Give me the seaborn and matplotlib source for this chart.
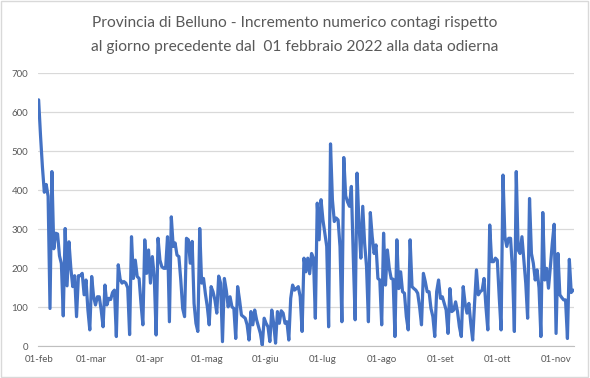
import pandas as pd
import matplotlib.pyplot as plt
import seaborn as sns
from matplotlib.patches import Rectangle

# Incremento giornaliero contagi, Provincia di Belluno
feb = [632, 540, 460, 395, 415, 385, 97, 448, 250, 290, 288, 232, 212, 78,
       302, 155, 268, 200, 153, 181, 76, 181, 181, 187, 132, 170, 93, 42]
mar = [179, 127, 106, 127, 127, 93, 50, 157, 106, 123, 120, 138, 144, 25,
       209, 172, 162, 166, 162, 150, 30, 281, 174, 221, 179, 174, 110, 55,
       273, 187, 247]
apr = [162, 230, 179, 29, 277, 221, 204, 200, 200, 281, 63, 332, 256, 265,
       234, 230, 170, 97, 76, 277, 273, 213, 269, 110, 59, 38, 302, 162, 174, 134]
mag = [101, 55, 153, 140, 119, 85, 180, 162, 12, 174, 144, 101, 127, 101,
       97, 20, 153, 119, 80, 76, 72, 55, 16, 89, 55, 93, 68, 50, 33, 3, 72]
giu = [59, 50, 12, 93, 59, 8, 89, 59, 91, 85, 59, 63, 16, 123, 157, 144,
       148, 153, 127, 38, 226, 191, 226, 186, 238, 226, 72, 367, 273, 376]
lug = [324, 290, 256, 50, 519, 376, 320, 329, 324, 256, 63, 484, 386, 370,
       359, 410, 230, 68, 444, 315, 226, 359, 264, 204, 63, 343, 281, 238,
       260, 174, 170]
ago = [55, 290, 157, 247, 200, 174, 172, 25, 273, 148, 191, 140, 136, 76,
       42, 273, 153, 148, 144, 136, 101, 55, 187, 166, 140, 140, 97, 76, 25,
       140, 170]
set_ = [123, 127, 110, 93, 33, 148, 89, 93, 114, 89, 50, 25, 153, 110, 85,
        110, 59, 16, 110, 196, 132, 140, 144, 174, 101, 42, 311, 217, 217, 226]
ott = [221, 127, 42, 439, 281, 256, 277, 277, 196, 38, 448, 247, 238, 281,
       220, 162, 72, 379, 238, 213, 170, 196, 150, 25, 343, 170, 200, 149,
       204, 264, 313]
nov = [33, 238, 132, 125, 119, 119, 20, 223, 138, 144]

valori = feb + mar + apr + mag + giu + lug + ago + set_ + ott + nov
date = pd.date_range('2022-02-01', periods=len(valori), freq='D')
dati = pd.DataFrame({'data': date, 'contagi': valori})

mesi = ['01-feb', '01-mar', '01-apr', '01-mag', '01-giu', '01-lug',
        '01-ago', '01-set', '01-ott', '01-nov']
inizio_mesi = pd.date_range('2022-02-01', periods=len(mesi), freq='MS')

sns.set_style('white')
plt.rcParams['font.family'] = ['Lato', 'DejaVu Sans']

fig = plt.figure(figsize=(5.9, 3.78), dpi=100)
ax = fig.add_axes([0.0644, 0.0839, 0.9086, 0.7221])

sns.lineplot(data=dati, x='data', y='contagi', color='#4472C4', linewidth=2.3, ax=ax)

ax.set_ylim(0, 700)
ax.set_yticks(range(0, 701, 100))
ax.set_xlim(pd.Timestamp('2022-02-01') - pd.Timedelta(hours=8),
            pd.Timestamp('2022-02-01') + pd.Timedelta(days=282.5))
ax.set_xticks(inizio_mesi)
ax.set_xticklabels(mesi)
ax.grid(axis='y', color='#d9d9d9', linewidth=0.9)
ax.set_axisbelow(True)
for s in ['top', 'right', 'left']:
    ax.spines[s].set_visible(False)
ax.spines['bottom'].set_color('#bfbfbf')
ax.tick_params(axis='x', length=4, color='#bfbfbf', colors='#595959', labelsize=7, pad=2)
ax.tick_params(axis='y', length=0, colors='#595959', labelsize=7, pad=7)
ax.set_xlabel('')
ax.set_ylabel('')

fig.text(0.5, 0.94, 'Provincia di Belluno - Incremento numerico contagi rispetto',
         ha='center', va='center', fontsize=11.2, color='#595959')
fig.text(0.5, 0.876, 'al giorno precedente dal  01 febbraio 2022 alla data odierna',
         ha='center', va='center', fontsize=11.2, color='#595959')

fig.patches.append(Rectangle((0.002, 0.003), 0.995, 0.994, transform=fig.transFigure,
                             fill=False, edgecolor='#d9d9d9', linewidth=1))

plt.savefig('out.png', dpi=100)
